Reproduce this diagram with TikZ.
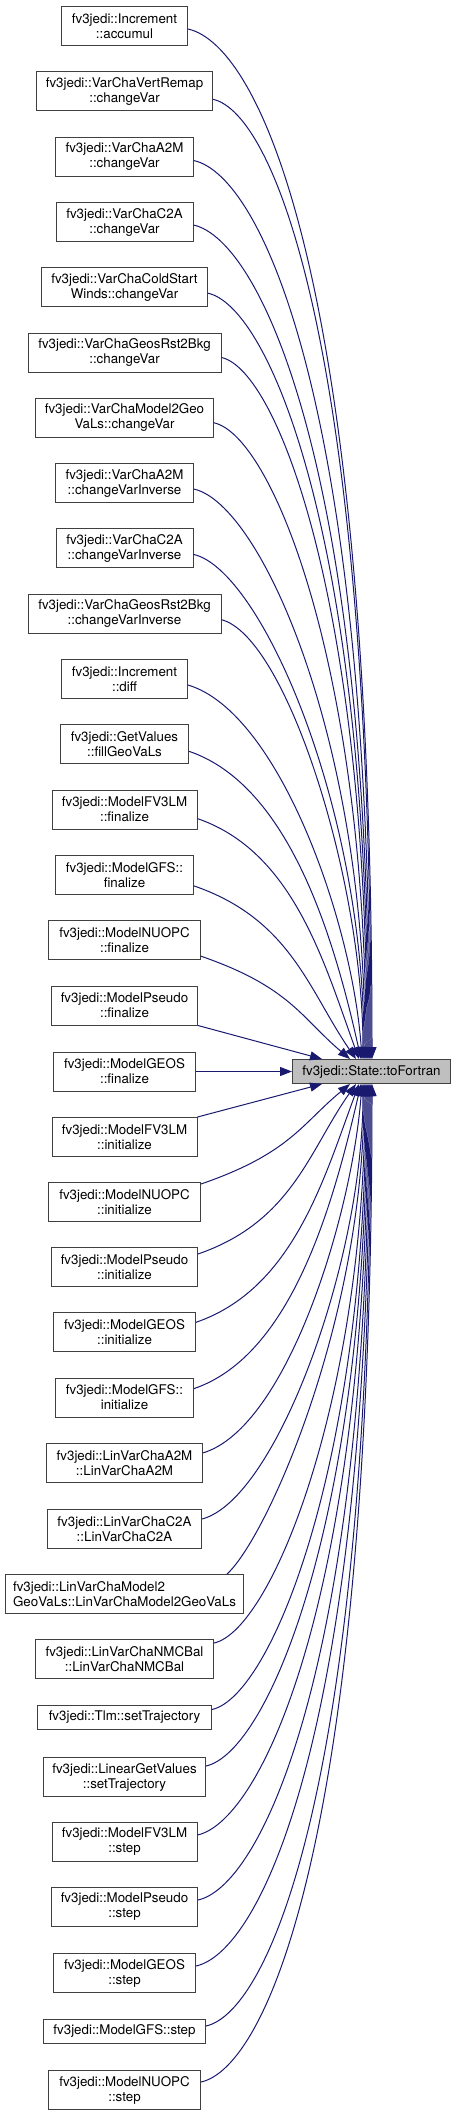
\documentclass[tikz,border=0pt]{standalone}
\usepackage{fontspec}
\setmainfont{TeX Gyre Heros}
\usetikzlibrary{calc,arrows.meta}
\definecolor{edgecol}{HTML}{191970}
\definecolor{boxline}{HTML}{404040}
\definecolor{tgtfill}{HTML}{BFBFBF}
\newdimen\myxd
\begin{document}
\begin{tikzpicture}[x=0.75pt,y=-0.75pt,
  caller/.style={draw=boxline, line width=0.75pt, fill=white, align=center,
    inner xsep=1pt, inner ysep=0pt, minimum height=29.25pt,
    font=\fontsize{10pt}{11.25pt}\selectfont},
  callerone/.style={caller, minimum height=18pt},
  target/.style={callerone, fill=tgtfill},
  edge/.style={draw=edgecol, line width=0.75pt, -{Triangle[length=9pt,width=6.75pt]}}]
\useasboundingbox (0,0) rectangle (456,2116);

\node[target, minimum width=118.5pt] (t) at (371.5,1071.5) {fv3jedi::State::toFortran};

\node[caller, minimum width=94.5pt]  (n0)  at (124.5,26)    {fv3jedi::Increment\\::accumul};
\node[caller, minimum width=132pt]   (n1)  at (124.5,91.3)  {fv3jedi::VarChaVertRemap\\::changeVar};
\node[caller, minimum width=103.5pt] (n2)  at (124.5,156.6) {fv3jedi::VarChaA2M\\::changeVar};
\node[caller, minimum width=102.75pt](n3)  at (124.5,222)   {fv3jedi::VarChaC2A\\::changeVar};
\node[caller, minimum width=124.5pt] (n4)  at (124.5,287.2) {fv3jedi::VarChaColdStart\\Winds::changeVar};
\node[caller, minimum width=144.75pt](n5)  at (124.5,352.5) {fv3jedi::VarChaGeosRst2Bkg\\::changeVar};
\node[caller, minimum width=133.5pt] (n6)  at (124.5,417.8) {fv3jedi::VarChaModel2Geo\\VaLs::changeVar};
\node[caller, minimum width=103.5pt] (n7)  at (124.5,483.1) {fv3jedi::VarChaA2M\\::changeVarInverse};
\node[caller, minimum width=102.75pt](n8)  at (124.5,548.4) {fv3jedi::VarChaC2A\\::changeVarInverse};
\node[caller, minimum width=144.75pt](n9)  at (124.5,613.7) {fv3jedi::VarChaGeosRst2Bkg\\::changeVarInverse};
\node[caller, minimum width=94.5pt]  (n10) at (124.5,679)   {fv3jedi::Increment\\::diff};
\node[caller, minimum width=96pt]    (n11) at (124.5,744.3) {fv3jedi::GetValues\\::fillGeoVaLs};
\node[caller, minimum width=108.75pt](n12) at (124.5,809.6) {fv3jedi::ModelFV3LM\\::finalize};
\node[caller, minimum width=103.5pt] (n13) at (124.5,874.9) {fv3jedi::ModelGFS::\\finalize};
\node[caller, minimum width=114pt]   (n14) at (124.5,940.2) {fv3jedi::ModelNUOPC\\::finalize};
\node[caller, minimum width=109.5pt] (n15) at (124.5,1005.5){fv3jedi::ModelPseudo\\::finalize};
\node[caller, minimum width=106.5pt] (n16) at (124.5,1071.5){fv3jedi::ModelGEOS\\::finalize};
\node[caller, minimum width=108.75pt](n17) at (124.5,1137)  {fv3jedi::ModelFV3LM\\::initialize};
\node[caller, minimum width=114pt]   (n18) at (124.5,1202)  {fv3jedi::ModelNUOPC\\::initialize};
\node[caller, minimum width=109.5pt] (n19) at (124.5,1267)  {fv3jedi::ModelPseudo\\::initialize};
\node[caller, minimum width=106.5pt] (n20) at (124.5,1332.3){fv3jedi::ModelGEOS\\::initialize};
\node[caller, minimum width=103.5pt] (n21) at (124.5,1397.6){fv3jedi::ModelGFS::\\initialize};
\node[caller, minimum width=117pt]   (n22) at (124.5,1462.9){fv3jedi::LinVarChaA2M\\::LinVarChaA2M};
\node[caller, minimum width=115.5pt] (n23) at (124.5,1529)  {fv3jedi::LinVarChaC2A\\::LinVarChaC2A};
\node[caller, align=left, minimum width=178.5pt] (n24) at (124.5,1594) {fv3jedi::LinVarChaModel2\\GeoVaLs::LinVarChaModel2GeoVaLs};
\node[caller, minimum width=133.5pt] (n25) at (124.5,1659)  {fv3jedi::LinVarChaNMCBal\\::LinVarChaNMCBal};
\node[callerone, minimum width=130.5pt] (n26) at (124.5,1717.5) {fv3jedi::Tlm::setTrajectory};
\node[caller, minimum width=121.5pt] (n27) at (124.5,1777)  {fv3jedi::LinearGetValues\\::setTrajectory};
\node[caller, minimum width=108.75pt](n28) at (124.5,1842)  {fv3jedi::ModelFV3LM\\::step};
\node[caller, minimum width=109.5pt] (n29) at (124.5,1907)  {fv3jedi::ModelPseudo\\::step};
\node[caller, minimum width=106.5pt] (n30) at (124.5,1973)  {fv3jedi::ModelGEOS\\::step};
\node[callerone, minimum width=121.5pt] (n31) at (124.5,2031) {fv3jedi::ModelGFS::step};
\node[caller, minimum width=114pt]   (n32) at (124.5,2090)  {fv3jedi::ModelNUOPC\\::step};

% straight connectors
\draw[edge] (n15.south east) -- ($(t.center)+(-49.5,-12.5)$);
\draw[edge] (n16.east) -- (t.west);
\draw[edge] (n17.north east) -- ($(t.center)+(-49.5,12.5)$);
% connector leaving through the top of a wide box
\draw[edge] ($(n24.north east)+(-17,0)$) .. controls +(39.4,-35.5) and +(0,236) .. ($(t.center)+(-7.5,12.5)$);

% curved connectors
\foreach \i/\s/\so/\ex in {0/1/3/372, 1/1/8/371, 2/1/4/370, 3/1/3/369, 4/1/6/368,
  5/1/5/367, 6/1/5/366, 7/1/6/365, 8/1/6/364, 9/1/6/363, 10/1/6/362, 11/1/7/361,
  12/1/9/359, 13/1/11/356, 14/1/16/350,
  18/-1/18/350, 19/-1/13/356, 20/-1/10/359, 21/-1/9/361, 22/-1/10/362, 23/-1/10/363,
  25/-1/16/365, 26/-1/8/366, 27/-1/11/367, 28/-1/7/368, 29/-1/7/369, 30/-1/7/370,
  31/-1/5/371, 32/-1/8/372} {
  \pgfextractx{\myxd}{\pgfpointanchor{n\i}{east}}
  \pgfmathsetmacro\tmpx{\myxd}
  \pgfextracty{\myxd}{\pgfpointanchor{n\i}{east}}
  \pgfmathsetmacro\tmpy{\myxd}
  \pgfmathsetmacro\sx{(\tmpx)/0.75}
  \pgfmathsetmacro\sy{0-(\tmpy)/0.75+(\s)*(\so)}
  \pgfmathsetmacro\ey{1071.5-12.5*(\s)}
  \pgfmathsetmacro\ddx{\ex-(\sx)}
  \pgfmathsetmacro\ddy{abs(\ey-(\sy))}
  \pgfmathsetmacro\dd{10*veclen(\ddx/10,\ddy/10)}
  \pgfmathsetmacro\lam{min(1,max(0,(\ddy-300)/200))}
  \pgfmathsetmacro\phn{\ddy<240 ? 40+0.2174*(\ddy-102) : min(90,70+0.103*(\ddy-240))}
  \pgfmathsetmacro\th{19-6.5*\lam}
  \pgfmathsetmacro\la{(0.63-0.23*\lam)*\ddx}
  \pgfmathsetmacro\ph{\phn*(1-\lam)+90*\lam}
  \pgfmathsetmacro\lb{(1-\lam)*0.35*\dd+\lam*max(\ddy-250,0)}
  \pgfmathsetmacro\cax{\la*cos(\th)}
  \pgfmathsetmacro\cay{(\s)*\la*sin(\th)}
  \pgfmathsetmacro\cbx{0-\lb*cos(\ph)}
  \pgfmathsetmacro\cby{0-(\s)*\lb*sin(\ph)}
  \pgfmathsetmacro\eox{\ex-371.5}
  \pgfmathsetmacro\eoy{0-12.5*(\s)}
  \pgfmathsetmacro\soy{(\s)*(\so)}
  \draw[edge] ($(n\i.east)+(0,\soy)$) .. controls +(\cax,\cay) and +(\cbx,\cby) .. ($(t.center)+(\eox,\eoy)$);
}
\end{tikzpicture}
\end{document}
